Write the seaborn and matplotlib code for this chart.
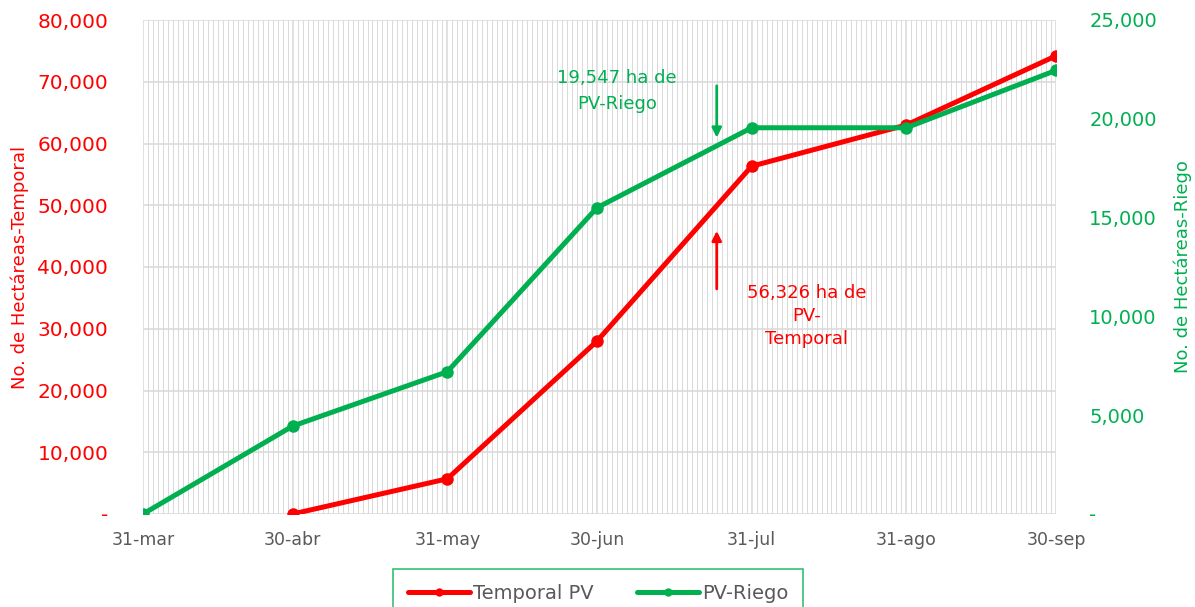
import pandas as pd
import numpy as np
import matplotlib
matplotlib.use("Agg")
import matplotlib.pyplot as plt
import matplotlib.dates as mdates
from matplotlib.ticker import FixedLocator, FuncFormatter
from matplotlib.lines import Line2D
import seaborn as sns

# ---- data ----
tick_dates = ["2023-03-31", "2023-04-30", "2023-05-31", "2023-06-30",
              "2023-07-31", "2023-08-31", "2023-09-30"]
tick_labels = ["31-mar", "30-abr", "31-may", "30-jun", "31-jul", "31-ago", "30-sep"]

temporal_dates = ["2023-04-30", "2023-05-31", "2023-06-30", "2023-07-31",
                  "2023-08-31", "2023-09-30"]
temporal_values = [0, 5700, 28000, 56326, 63000, 74200]

riego_dates = ["2023-03-31", "2023-04-30", "2023-05-31", "2023-06-30",
               "2023-07-31", "2023-08-31", "2023-09-30"]
riego_values = [0, 4450, 7200, 15500, 19547, 19547, 22450]

left_ticks = [0, 10000, 20000, 30000, 40000, 50000, 60000, 70000, 80000]
right_ticks = [0, 5000, 10000, 15000, 20000, 25000]

RED = "#FF0000"
GREEN = "#00B050"
GRID = "#D9D9D9"
TXT = "#595959"

sns.set_theme(style="white")
plt.rcParams["font.family"] = ["DejaVu Sans"]

df_t = pd.DataFrame({"fecha": pd.to_datetime(temporal_dates), "ha": temporal_values})
df_r = pd.DataFrame({"fecha": pd.to_datetime(riego_dates), "ha": riego_values})

fig = plt.figure(figsize=(11.95, 6.07), dpi=100)
ax = fig.add_axes([143 / 1195, 1 - 514 / 607, (1056 - 143) / 1195, (514 - 20) / 607])
ax2 = ax.twinx()

sns.lineplot(data=df_t, x="fecha", y="ha", ax=ax, color=RED, linewidth=3.6,
             marker="o", markersize=9, markeredgewidth=0, legend=False)
sns.lineplot(data=df_r, x="fecha", y="ha", ax=ax2, color=GREEN, linewidth=3.6,
             marker="o", markersize=9, markeredgewidth=0, legend=False)

xmin = pd.Timestamp("2023-03-31")
xmax = pd.Timestamp("2023-09-30")
ax.set_xlim(xmin, xmax)
ax.set_ylim(0, 80000)
ax2.set_ylim(0, 25000)

# x ticks
tick_nums = mdates.date2num(pd.to_datetime(tick_dates))
ax.xaxis.set_major_locator(FixedLocator(tick_nums))
ax.set_xticklabels(tick_labels)
ax.xaxis.set_minor_locator(mdates.DayLocator())

ax.yaxis.set_major_locator(FixedLocator(left_ticks))
ax2.yaxis.set_major_locator(FixedLocator(right_ticks))
fmt = FuncFormatter(lambda v, p: "-" if v == 0 else f"{int(v):,}")
ax.yaxis.set_major_formatter(fmt)
ax2.yaxis.set_major_formatter(fmt)

ax.grid(True, which="major", axis="both", color=GRID, linewidth=1.1)
ax.grid(True, which="minor", axis="x", color=GRID, linewidth=0.7)
ax.set_axisbelow(True)
ax2.grid(False)

for a in (ax, ax2):
    for s in a.spines.values():
        s.set_visible(False)

ax.tick_params(axis="x", which="both", length=0, labelsize=12.5, labelcolor=TXT, pad=12)
ax.tick_params(axis="y", length=0, labelsize=14.5, labelcolor=RED, pad=25)
ax2.tick_params(axis="y", length=0, labelsize=14, labelcolor=GREEN, pad=24)

ax.set_xlabel("")
ax.set_ylabel("No. de Hectáreas-Temporal", color=RED, fontsize=13, labelpad=6)
ax2.set_ylabel("No. de Hectáreas-Riego", color=GREEN, fontsize=13, labelpad=12)

# annotations
ax.annotate("", xy=(pd.Timestamp("2023-07-24"), 60500), xytext=(pd.Timestamp("2023-07-24"), 69800),
            arrowprops=dict(arrowstyle="-|>", color=GREEN, lw=2, mutation_scale=14))
ax.text(pd.Timestamp("2023-06-30") + pd.Timedelta(days=4), 68500, "19,547 ha de\nPV-Riego",
        color=GREEN, fontsize=13, ha="center", va="center", linespacing=1.6)
ax.annotate("", xy=(pd.Timestamp("2023-07-24"), 46300), xytext=(pd.Timestamp("2023-07-24"), 36000),
            arrowprops=dict(arrowstyle="-|>", color=RED, lw=2, mutation_scale=14))
ax.text(pd.Timestamp("2023-08-11"), 32000, "56,326 ha de\nPV-\nTemporal",
        color=RED, fontsize=13, ha="center", va="center", linespacing=1.35)

# legend (proxy handles so the plotted markers stay unchanged)
handles = [Line2D([], [], color=RED, linewidth=3.6, marker="o", markersize=6, markeredgewidth=0),
           Line2D([], [], color=GREEN, linewidth=3.6, marker="o", markersize=6, markeredgewidth=0)]
labels = ["Temporal PV", "PV-Riego"]
leg = fig.legend(handles, labels, loc="upper center", bbox_to_anchor=(598 / 1195, 1 - 569 / 607),
                 ncol=2, frameon=True, fancybox=False, fontsize=14, handlelength=3.2,
                 columnspacing=2.2, borderpad=0.75, handletextpad=0.15, borderaxespad=0)
leg.get_frame().set_edgecolor(GREEN)
leg.get_frame().set_linewidth(1.2)
for t in leg.get_texts():
    t.set_color(TXT)

fig.savefig("out.png", dpi=100)
